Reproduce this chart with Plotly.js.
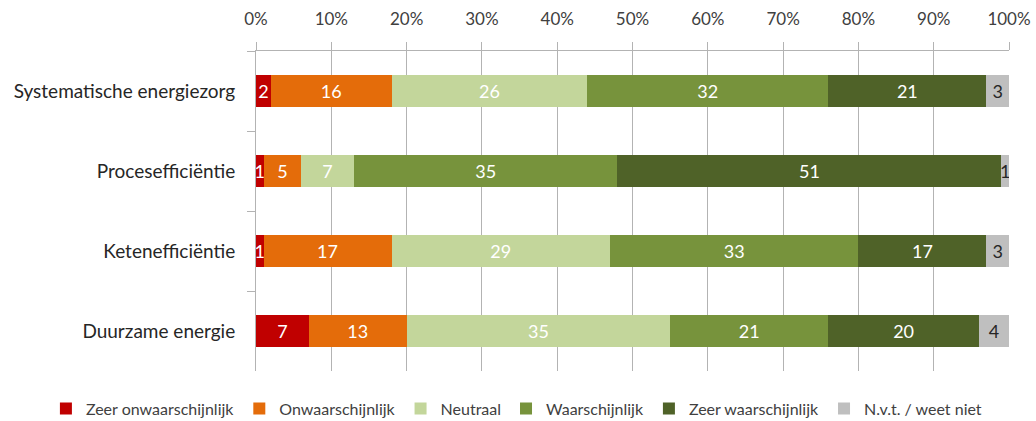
<!DOCTYPE html>
<html>
<head>
<meta charset="utf-8">
<script src="https://cdn.plot.ly/plotly-3.0.1.min.js"></script>
<style>
  html, body { margin: 0; padding: 0; background: #fff; }
  #chart { width: 1036px; height: 421px; }
</style>
</head>
<body>
<div id="chart"></div>
<script>
const categories = ['Systematische energiezorg', 'Procesefficiëntie', 'Ketenefficiëntie', 'Duurzame energie'];

const seriesNames = ['Zeer onwaarschijnlijk', 'Onwaarschijnlijk', 'Neutraal', 'Waarschijnlijk', 'Zeer waarschijnlijk', 'N.v.t. / weet niet'];
const zeerOnwaarschijnlijk = [2, 1, 1, 7];
const onwaarschijnlijk = [16, 5, 17, 13];
const neutraal = [26, 7, 29, 35];
const waarschijnlijk = [32, 35, 33, 21];
const zeerWaarschijnlijk = [21, 51, 17, 20];
const nvt = [3, 1, 3, 4];

const colors = ['#C00000', '#E46C0A', '#C3D69B', '#77933C', '#4F6228', '#BFBFBF'];
const labelColors = ['#ffffff', '#ffffff', '#ffffff', '#ffffff', '#ffffff', '#262626'];
const xTicks = [0, 10, 20, 30, 40, 50, 60, 70, 80, 90, 100];

const allSeries = [zeerOnwaarschijnlijk, onwaarschijnlijk, neutraal, waarschijnlijk, zeerWaarschijnlijk, nvt];

const FONT = 'Lato, Open Sans, sans-serif';

const traces = allSeries.map((vals, i) => ({
    type: 'bar',
    orientation: 'h',
    name: seriesNames[i],
    y: categories,
    x: vals,
    text: vals.map(String),
    textposition: 'inside',
    insidetextanchor: 'middle',
    constraintext: 'none',
    textfont: { family: FONT, size: 18, color: labelColors[i] },
    marker: { color: colors[i], line: { width: 0 } },
    hoverinfo: 'x+name'
}));

const layout = {
    width: 1036,
    height: 421,
    barmode: 'stack',
    bargap: 0.6,
    margin: { l: 256, r: 27, t: 51, b: 50, autoexpand: false },
    paper_bgcolor: '#ffffff',
    plot_bgcolor: '#ffffff',
    font: { family: FONT, size: 16, color: '#404040' },
    uniformtext: { mode: 'show', minsize: 18 },
    xaxis: {
        side: 'top',
        range: [0, 100],
        tickvals: xTicks,
        ticktext: xTicks.map(v => v + '%'),
        showgrid: true,
        gridcolor: '#b3b3b3',
        gridwidth: 1,
        showline: true,
        linecolor: '#b3b3b3',
        ticks: 'outside',
        ticklen: 8,
        tickcolor: '#b3b3b3',
        ticklabelstandoff: 10,
        tickfont: { size: 17, color: '#404040' },
        zeroline: false,
        fixedrange: true
    },
    yaxis: {
        type: 'category',
        autorange: 'reversed',
        showline: true,
        linecolor: '#b3b3b3',
        ticks: 'outside',
        tickson: 'boundaries',
        ticklen: 8,
        tickcolor: '#b3b3b3',
        showgrid: false,
        tickfont: { size: 19, color: '#262626' },
        ticklabelstandoff: 16,
        fixedrange: true
    },
    showlegend: true,
    legend: {
        orientation: 'h',
        x: -0.279,
        xanchor: 'left',
        y: -0.064,
        yanchor: 'top',
        font: { size: 16, color: '#404040' },
        traceorder: 'normal',
        itemwidth: 30,
        tracegroupgap: 0
    }
};

Plotly.newPlot('chart', traces, layout, { displayModeBar: false, staticPlot: true });
</script>
</body>
</html>
